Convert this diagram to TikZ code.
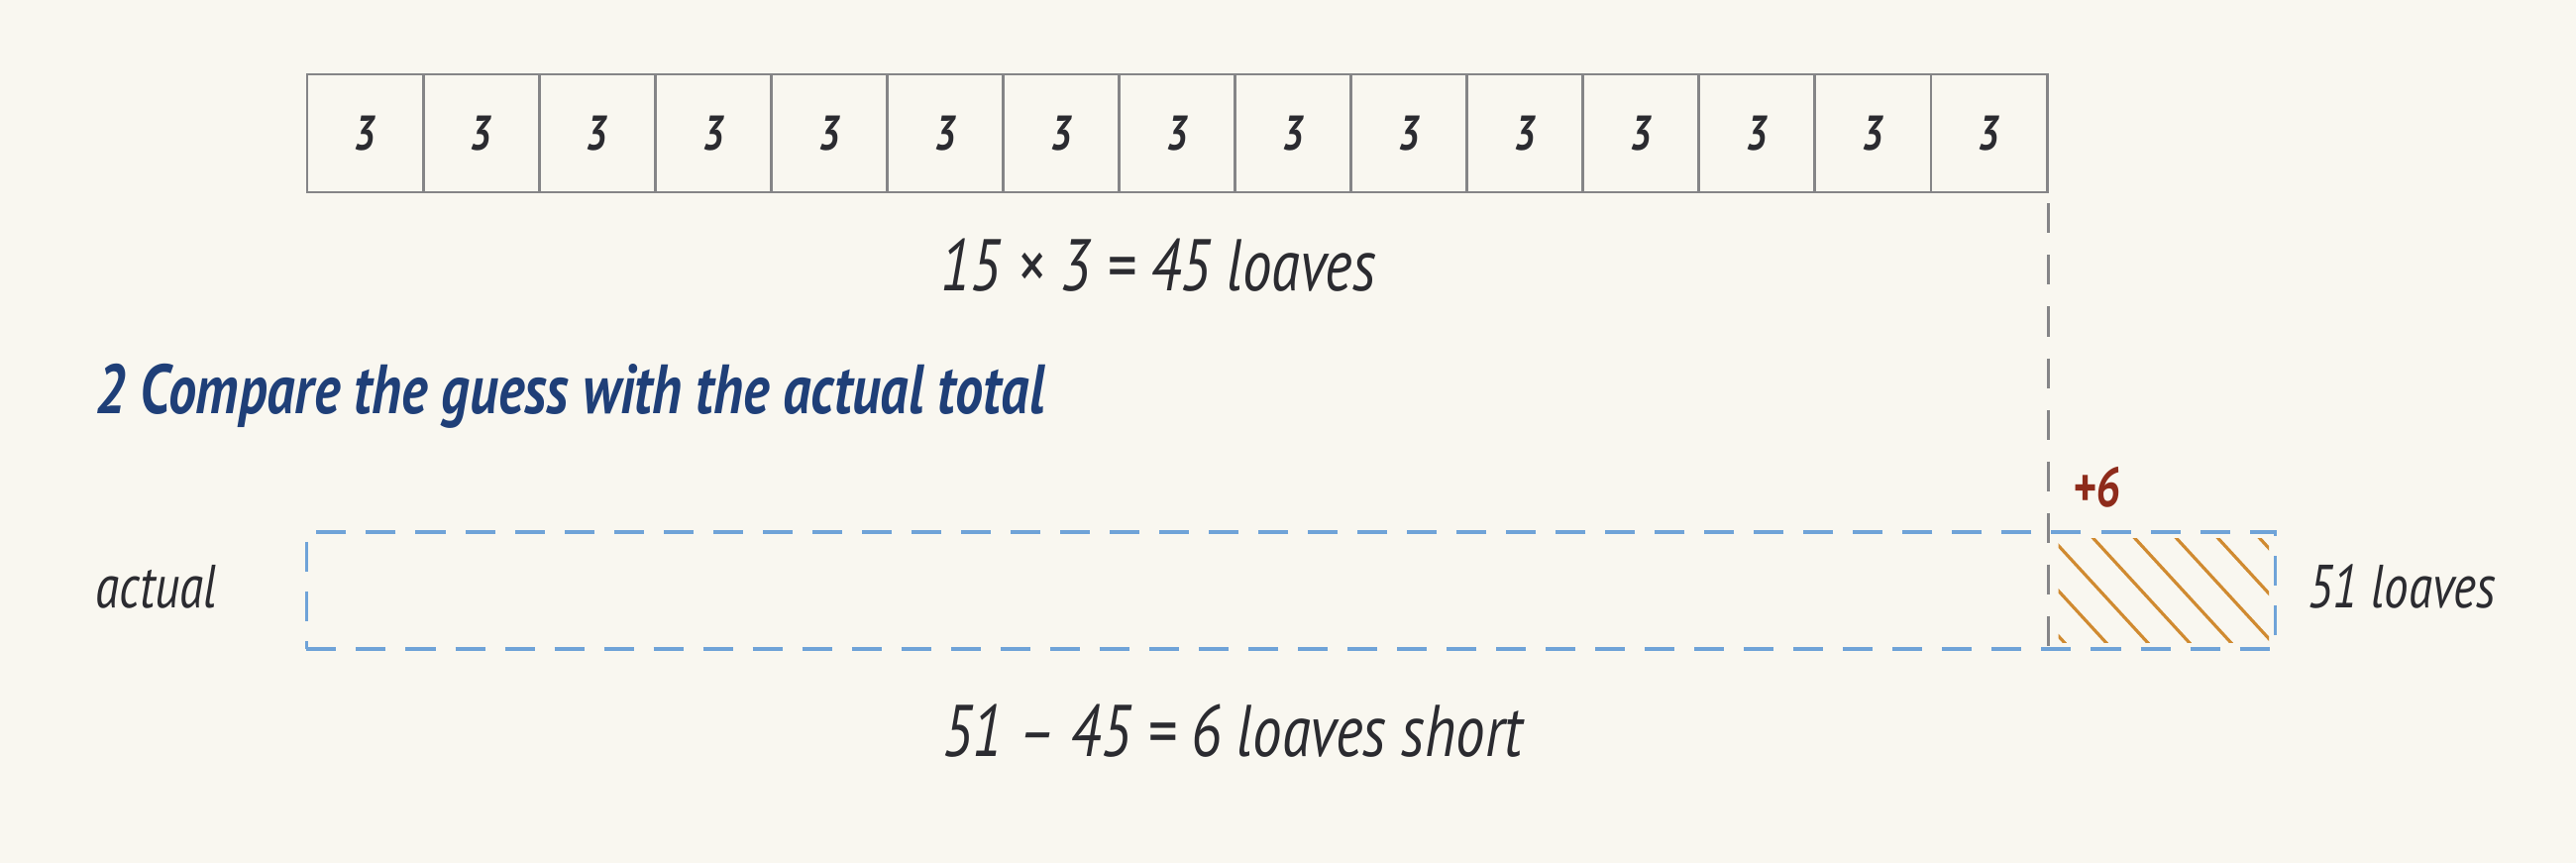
\documentclass[tikz,border=0pt]{standalone}
\usepackage{fontspec}
\setmainfont[FakeStretch=0.8]{PT Sans}
\usepackage{tikz}
\usetikzlibrary{calc,positioning}
\definecolor{papercream}{HTML}{F9F7F0}
\definecolor{inkdark}{HTML}{2B2B30}
\definecolor{pencilgray}{HTML}{858587}
\definecolor{dashblue}{HTML}{6FA3D8}
\definecolor{titleblue}{HTML}{1F3F78}
\definecolor{rustred}{HTML}{8E2B1B}
\definecolor{hatchorange}{HTML}{D08A30}
\tikzstyle{cell}=[draw=pencilgray, line width=0.8pt, minimum width=1.171cm, minimum height=1.19cm, inner sep=0pt, text=inkdark, font=\fontsize{14}{16}\selectfont\bfseries\itshape]
\tikzstyle{actualbox}=[draw=dashblue, line width=0.9pt, dash pattern=on 0.3cm off 0.2cm, minimum width=19.86cm, minimum height=1.18cm, inner sep=0pt]
\tikzstyle{guide}=[draw=pencilgray, line width=0.8pt, dash pattern=on 0.3cm off 0.22cm]
\tikzstyle{hatch}=[draw=hatchorange, line width=0.9pt]
\tikzstyle{note}=[text=inkdark, inner sep=0pt, font=\fontsize{21}{24}\selectfont\itshape]
\tikzstyle{sidenote}=[text=inkdark, inner sep=0pt, font=\fontsize{17.5}{20}\selectfont\itshape]
\tikzstyle{heading}=[text=titleblue, inner sep=0pt, font=\fontsize{20}{24}\selectfont\bfseries\itshape]
\tikzstyle{extra}=[text=rustred, inner sep=0pt, font=\fontsize{16}{20}\selectfont\bfseries\itshape]
\begin{document}
\begin{tikzpicture}[x=0.01cm, y=-0.01cm]
	\fill[papercream] (0,0) rectangle (2600,871);
	\useasboundingbox (0,0) rectangle (2600,871);
	\foreach \i in {1,...,15}
		\node[cell] (c\i) at ({310+117.07*(\i-.5)},134.5) {3};
	\node[note] (guesssum) at (1169,268) {15 × 3 = 45 loaves};
	\node[heading, anchor=west] (steptwo) at (96,400) {2 Compare the guess with the actual total};
	\node[actualbox] (actualbar) at (1303,596) {};
	\begin{scope}
		\clip ($(c15.east |- actualbar.north)+(10,8)$) rectangle ($(actualbar.south east)+(-8,-8)$);
		\foreach \k in {0,...,9}
			\draw[hatch] ($(c15.east |- actualbar.north)+(\k*42-130,0)$) -- ++(115,125);
	\end{scope}
	\draw[guide] ($(c15.south east)+(0,10)$) -- (actualbar.south -| c15.east);
	\node[extra] (gap) at (2116,492) {+6};
	\node[sidenote] (actuallbl) at (158,592) {actual};
	\node[sidenote] (totallbl) at (2424,592) {51 loaves};
	\node[note] (shortfall) at (1244,738) {51 – 45 = 6 loaves short};
\end{tikzpicture}
\end{document}
